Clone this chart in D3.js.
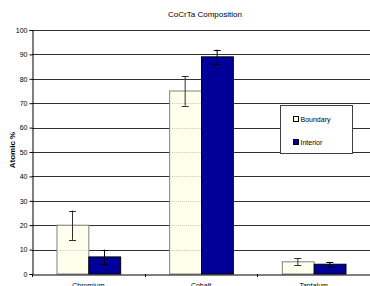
<!DOCTYPE html>
<html>
<head>
<meta charset="utf-8">
<script src="https://cdn.jsdelivr.net/npm/d3@7"></script>
<style>
body { margin: 0; background: #fff; }
text { font-family: "Liberation Sans", Arial, sans-serif; fill: #000; }
</style>
</head>
<body>
<div id="chart"></div>
<script>
// data
var elements = ["Chromium", "Cobalt", "Tantalum"];
var seriesNames = ["Boundary", "Interior"];
var boundary = [20, 75, 5];
var boundaryErr = [6, 6, 1.5];
var interior = [7, 89, 4];
var interiorErr = [3, 3, 1];
var yTicks = [0, 10, 20, 30, 40, 50, 60, 70, 80, 90, 100];

var svgWidth = 370;
var svgHeight = 286;
var margin = { top: 30, right: 0, bottom: 12, left: 32 };
var width = svgWidth - margin.left - margin.right;
var height = 274 - margin.top;

var colors = { Boundary: "#ffffee", Interior: "#000099" };
var strokes = { Boundary: "#808080", Interior: "#000000" };

var svg = d3.select("#chart").append("svg")
    .attr("width", svgWidth)
    .attr("height", svgHeight);

var chartGroup = svg.append("g")
    .attr("transform", `translate(${margin.left}, ${margin.top})`);

var x0 = d3.scaleBand().domain(elements).range([0, width]).paddingInner(0).paddingOuter(0);
var x1 = d3.scaleBand().domain(seriesNames).range([24.5, x0.bandwidth() - 24.5]);
var y = d3.scaleLinear().domain([0, 100]).range([height, 0]);

// gridlines
chartGroup.append("g")
    .selectAll("line")
    .data(yTicks.slice(1))
    .enter()
    .append("line")
    .attr("x1", 0)
    .attr("x2", width)
    .attr("y1", d => Math.round(y(d)) + 0.5)
    .attr("y2", d => Math.round(y(d)) + 0.5)
    .attr("stroke", "#303030")
    .attr("stroke-width", 1);

var rows = elements.map(function (el, i) {
    return [
        { el: el, s: "Boundary", v: boundary[i], e: boundaryErr[i] },
        { el: el, s: "Interior", v: interior[i], e: interiorErr[i] }
    ];
});

var groups = chartGroup.selectAll(".grp")
    .data(rows)
    .enter()
    .append("g")
    .attr("transform", (d, i) => `translate(${x0(elements[i])},0)`);

groups.selectAll("rect")
    .data(d => d)
    .enter()
    .append("rect")
    .attr("x", d => x1(d.s) + 0.5)
    .attr("width", x1.bandwidth())
    .attr("y", d => y(d.v))
    .attr("height", d => height - y(d.v))
    .attr("fill", d => colors[d.s])
    .attr("stroke", d => strokes[d.s])
    .attr("stroke-width", 1);

// faint gridlines seen through the boundary bars
groups.each(function (d) {
    var b = d[0];
    d3.select(this).selectAll(".thru")
        .data(yTicks.filter(t => t > 0 && t < b.v))
        .enter()
        .append("line")
        .attr("x1", x1("Boundary") + 1)
        .attr("x2", x1("Boundary") + x1.bandwidth())
        .attr("y1", t => Math.round(y(t)) + 0.5)
        .attr("y2", t => Math.round(y(t)) + 0.5)
        .attr("stroke", "#c8c8b0")
        .attr("stroke-dasharray", "1,1");
});

// error bars
var err = groups.selectAll(".err")
    .data(d => d)
    .enter()
    .append("g")
    .attr("stroke", d => d.s === "Boundary" ? "#303030" : "#000")
    .attr("stroke-width", 1);

err.append("line")
    .attr("x1", d => Math.round(x1(d.s) + x1.bandwidth() / 2) + 0.5)
    .attr("x2", d => Math.round(x1(d.s) + x1.bandwidth() / 2) + 0.5)
    .attr("y1", d => y(d.v - d.e))
    .attr("y2", d => y(d.v + d.e));

[-1, 1].forEach(function (sign) {
    err.append("line")
        .attr("x1", d => Math.round(x1(d.s) + x1.bandwidth() / 2) - 3)
        .attr("x2", d => Math.round(x1(d.s) + x1.bandwidth() / 2) + 4)
        .attr("y1", d => Math.round(y(d.v + sign * d.e)) + 0.5)
        .attr("y2", d => Math.round(y(d.v + sign * d.e)) + 0.5);
});

// axes
var leftAxis = d3.axisLeft(y).tickValues(yTicks).tickSize(3).tickPadding(2);
var yAxis = chartGroup.append("g").attr("transform", "translate(0.5,0)").call(leftAxis);
yAxis.select(".domain").attr("stroke", "#000");
yAxis.selectAll("text").attr("font-size", "7px").attr("fill", "#000");

var bottomAxis = d3.axisBottom(x0).tickSize(0).tickPadding(9);
var xAxis = chartGroup.append("g").attr("transform", `translate(0, ${height + 0.5})`).call(bottomAxis);
xAxis.select(".domain").attr("stroke", "#000");
xAxis.selectAll("text").attr("font-size", "7px").attr("fill", "#000");

chartGroup.append("g")
    .selectAll("line")
    .data(elements)
    .enter()
    .append("line")
    .attr("x1", d => Math.round(x0(d)) + 0.5)
    .attr("x2", d => Math.round(x0(d)) + 0.5)
    .attr("y1", height)
    .attr("y2", height + 3)
    .attr("stroke", "#000");

// title and axis label
svg.append("text")
    .attr("x", 205)
    .attr("y", 17)
    .attr("text-anchor", "middle")
    .attr("font-size", "8px")
    .text("CoCrTa Composition");

svg.append("text")
    .attr("transform", "translate(15,150) rotate(-90)")
    .attr("text-anchor", "middle")
    .attr("font-size", "8px")
    .attr("font-weight", "bold")
    .text("Atomic %");

// legend
var legend = svg.append("g").attr("transform", "translate(280.5,105.5)");
legend.append("rect")
    .attr("width", 72)
    .attr("height", 48)
    .attr("fill", "#fff")
    .attr("stroke", "#404040");

var items = legend.selectAll(".item")
    .data(seriesNames)
    .enter()
    .append("g")
    .attr("transform", (d, i) => `translate(13,${11 + i * 23})`);

items.append("rect")
    .attr("width", 5)
    .attr("height", 5)
    .attr("fill", d => colors[d])
    .attr("stroke", "#000");

items.append("text")
    .attr("x", 7)
    .attr("y", 5)
    .attr("font-size", "7px")
    .text(d => d);
</script>
</body>
</html>
